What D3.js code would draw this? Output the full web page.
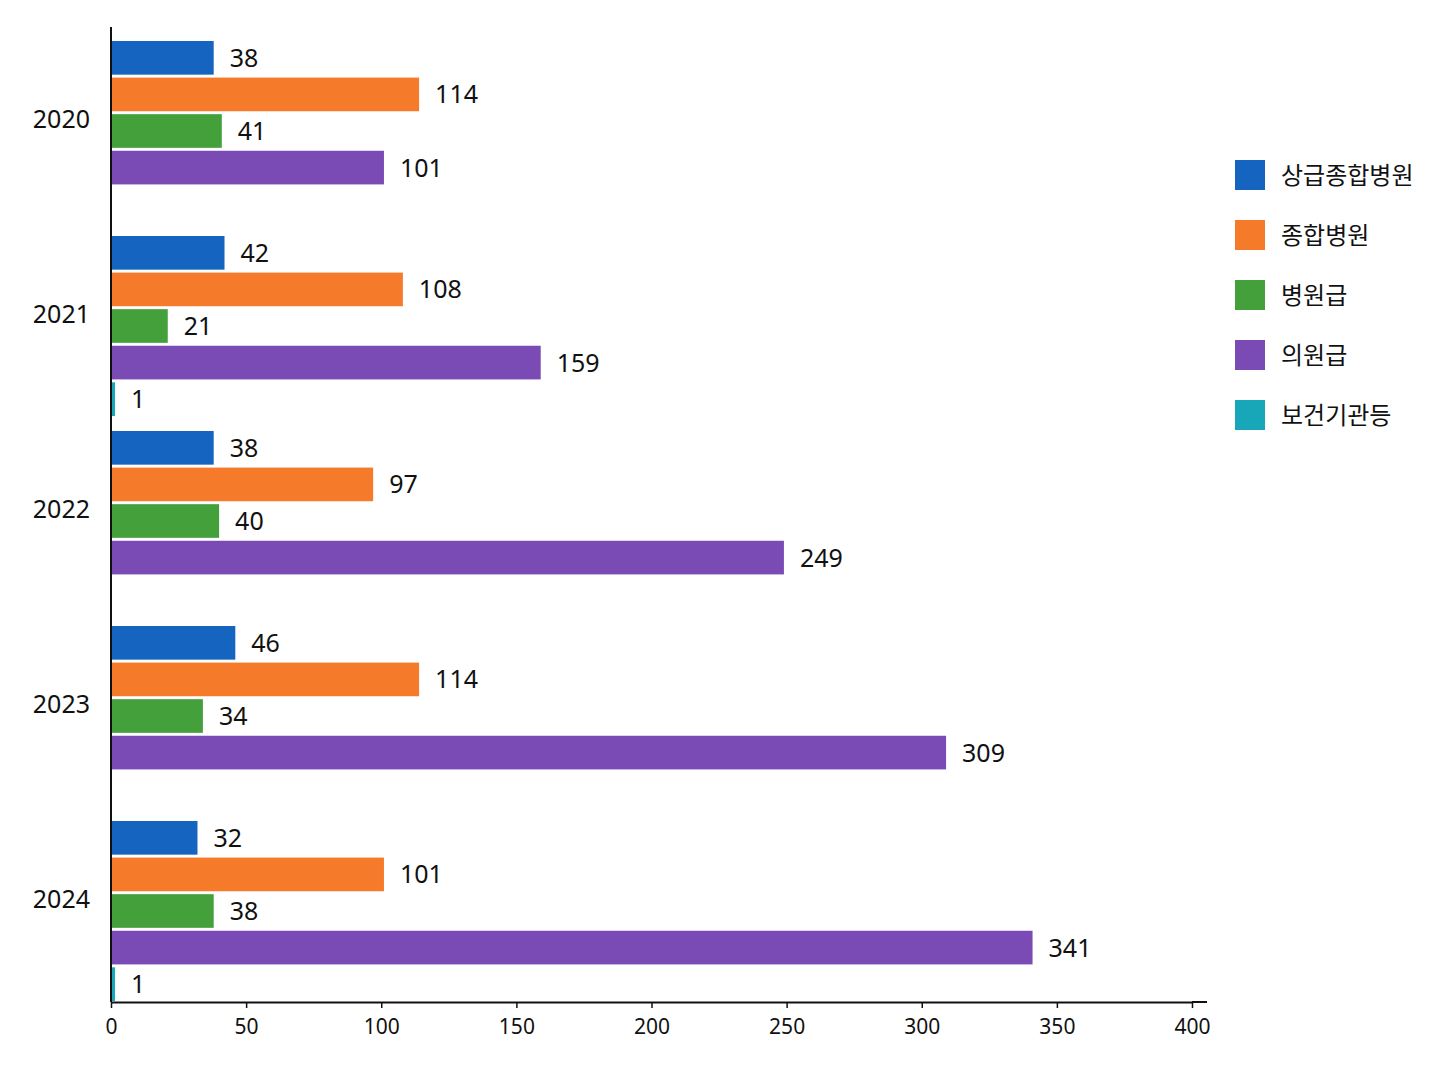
<!DOCTYPE html>
<html><head><meta charset="utf-8">
<script src="https://cdn.jsdelivr.net/npm/d3@7"></script>
<style>body{margin:0;background:#fff;font-family:"Noto Sans","Noto Sans CJK KR",sans-serif}</style>
</head><body><svg id="c" width="1448" height="1086"></svg>
<script>
const years=["2020","2021","2022","2023","2024"];
const seriesNames=["상급종합병원","종합병원","병원급","의원급","보건기관등"];
const s1=[38,42,38,46,32];
const s2=[114,108,97,114,101];
const s3=[41,21,40,34,38];
const s4=[101,159,249,309,341];
const s5=[null,1,null,null,1];
const ticks=[0,50,100,150,200,250,300,350,400];
const colors=["#1565c0","#f57a2a","#43a03a","#7a4bb5","#17a7b8"];
const series=[s1,s2,s3,s4,s5];
const svg=d3.select("#c");
const x=d3.scaleLinear().domain([0,400]).range([111,1192]);
const y=d3.scaleBand().domain(years).range([27,1002]);
const sub=d3.scaleBand().domain(d3.range(5)).range([14,194]).paddingInner(0.08);
years.forEach((yr,i)=>{
  series.forEach((s,j)=>{
    const v=s[i]; if(v==null) return;
    const y0=y(yr)+sub(j);
    svg.append("rect").attr("x",x(0)).attr("y",y0).attr("width",Math.max(x(v)-x(0),4)).attr("height",sub.bandwidth()).attr("fill",colors[j]);
    svg.append("text").attr("x",Math.max(x(v),x(0)+4)+16).attr("y",y0+sub.bandwidth()/2+9).attr("font-size",25).attr("fill","#111").text(v);
  });
  svg.append("text").attr("x",90).attr("y",y(yr)+y.bandwidth()/2+3).attr("text-anchor","end").attr("font-size",25).attr("fill","#111").text(yr);
});
const ax=svg.append("g").attr("transform","translate(0,1002)").call(d3.axisBottom(x).tickValues(ticks).tickSize(6).tickSizeOuter(0));
ax.select(".domain").attr("stroke","#111").attr("stroke-width",2);
ax.selectAll("line").attr("stroke","#111").attr("stroke-width",1.5);
ax.selectAll("text").attr("font-size",21).attr("fill","#111").attr("dy","1.1em").style("font-family","Noto Sans");
svg.append("line").attr("x1",1192).attr("x2",1207).attr("y1",1002).attr("y2",1002).attr("stroke","#111").attr("stroke-width",2);
svg.append("line").attr("x1",111).attr("x2",111).attr("y1",27).attr("y2",1002).attr("stroke","#111").attr("stroke-width",2);
seriesNames.forEach((n,j)=>{
  const yy=160+j*60;
  svg.append("rect").attr("x",1235).attr("y",yy).attr("width",30).attr("height",30).attr("fill",colors[j]);
  svg.append("text").attr("x",1281).attr("y",yy+24).attr("font-size",24).attr("fill","#111").text(n);
});
</script></body></html>
